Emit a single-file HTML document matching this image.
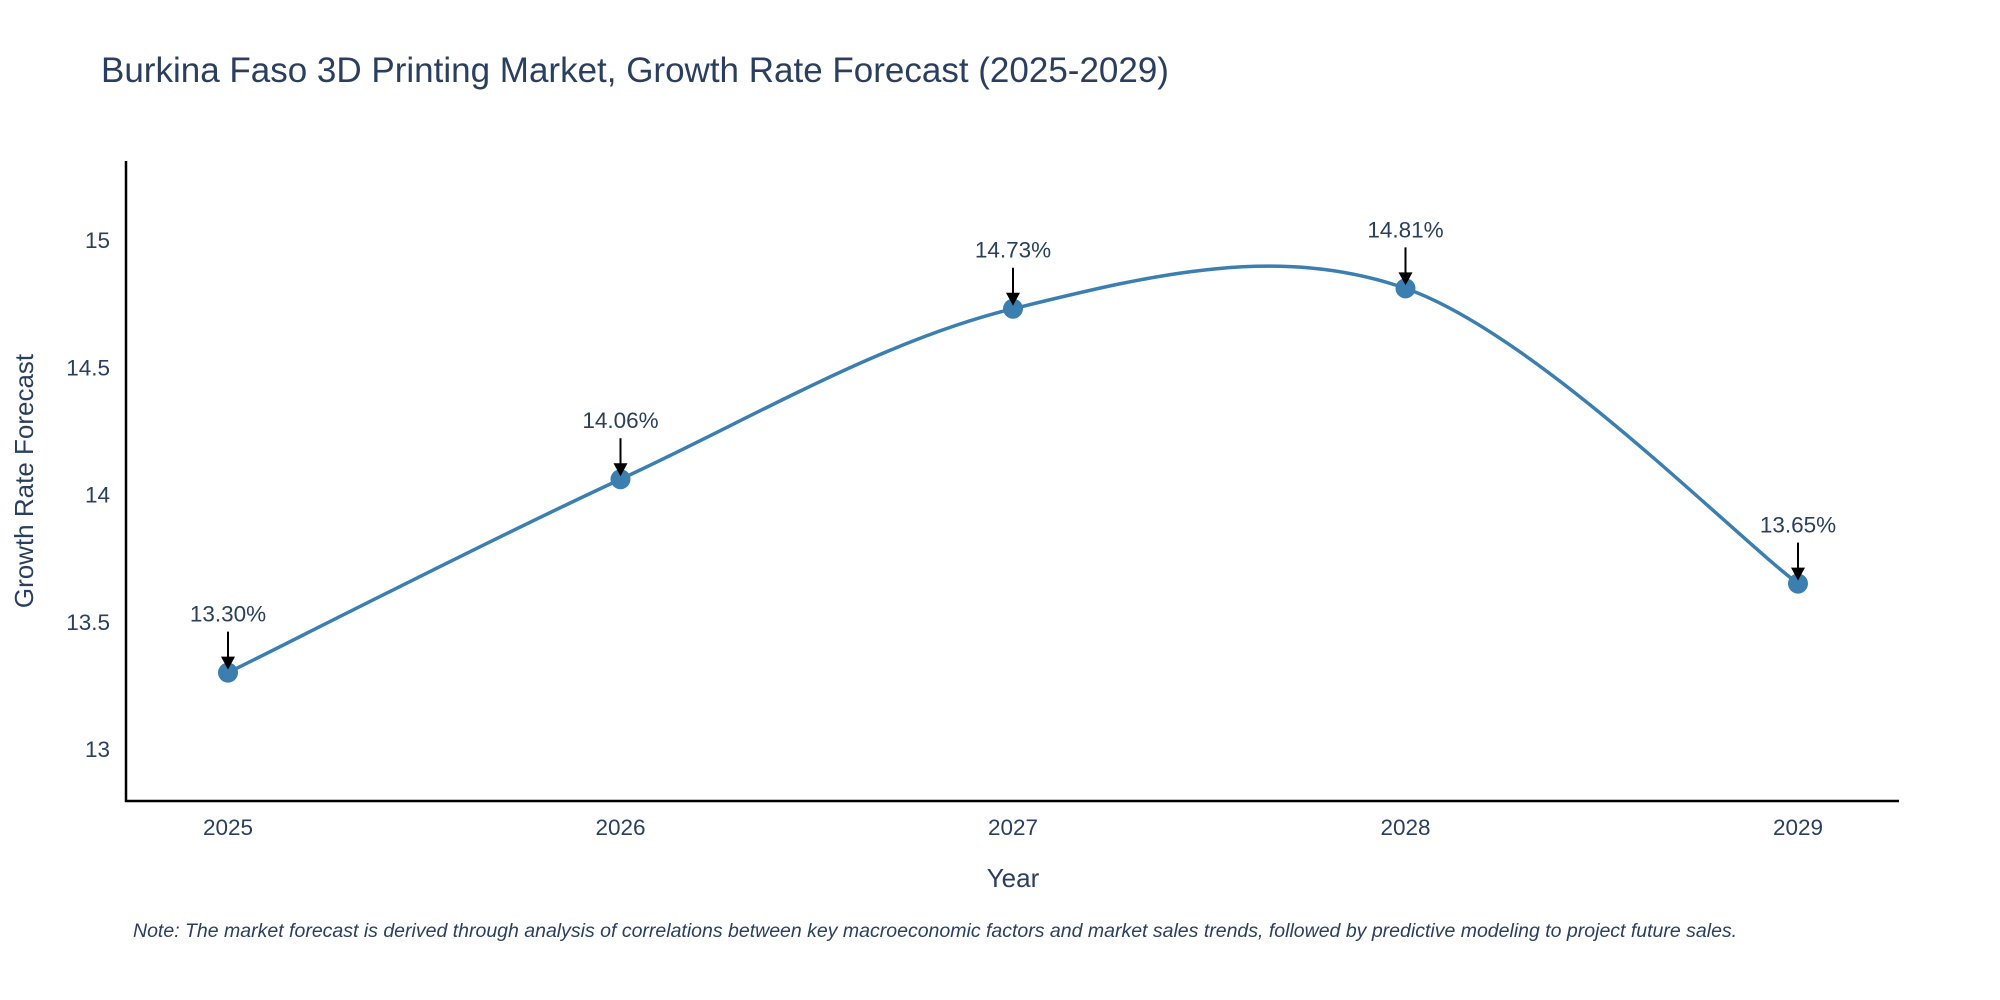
<!DOCTYPE html>
<html><head><meta charset="utf-8"><style>
body{margin:0;background:#fff;}
svg{display:block;font-family:"Liberation Sans",sans-serif;}
</style></head><body>
<svg id="chart" width="2000" height="1000" viewBox="0 0 2000 1000">
<text x="101" y="82" font-size="35" fill="#2a3f5f">Burkina Faso 3D Printing Market, Growth Rate Forecast (2025-2029)</text>
<g id="plot"></g>
<text x="1013" y="887" font-size="26" fill="#2a3f5f" text-anchor="middle">Year</text>
<text transform="translate(33,481) rotate(-90)" font-size="26" fill="#2a3f5f" text-anchor="middle">Growth Rate Forecast</text>
<text x="133" y="937" font-size="19.5" font-style="italic" fill="#2a3f5f">Note: The market forecast is derived through analysis of correlations between key macroeconomic factors and market sales trends, followed by predictive modeling to project future sales.</text>
</svg>
<script>
const years = [2025, 2026, 2027, 2028, 2029];
const growth = [13.30, 14.06, 14.73, 14.81, 13.65];
const yTicks = [13, 13.5, 14, 14.5, 15];
const yTickLabels = ["13", "13.5", "14", "14.5", "15"];

const NS = "http://www.w3.org/2000/svg";
const g = document.getElementById("plot");
function xs(v){ return 228 + (v - 2025) * 392.5; }
function ys(v){ return 749 - (v - 13) * 254.5; }
function mk(tag, attrs){ const e = document.createElementNS(NS, tag); for (const k in attrs) e.setAttribute(k, attrs[k]); g.appendChild(e); return e; }

let ax = mk("line", {x1:126, y1:161, x2:126, y2:802, stroke:"#000", "stroke-width":2.5});


ax = mk("line", {x1:125, y1:801, x2:1899, y2:801, stroke:"#000", "stroke-width":2.5});



yTicks.forEach((t, i) => {
  const e = mk("text", {x:110, y:ys(t)+8, "font-size":22.5, fill:"#2a3f5f", "text-anchor":"end"});
  e.textContent = yTickLabels[i];
  
  
});
years.forEach(yr => {
  const e = mk("text", {x:xs(yr), y:835, "font-size":22.5, fill:"#2a3f5f", "text-anchor":"middle"});
  e.textContent = String(yr);
  
  
});

const pts = years.map((y, i) => [xs(y), ys(growth[i])]);
let d = "M" + pts[0][0] + "," + pts[0][1];
for (let i = 0; i < pts.length - 1; i++) {
  const p0 = pts[i-1] || pts[i], p1 = pts[i], p2 = pts[i+1], p3 = pts[i+2] || pts[i+1];
  const c1 = [p1[0] + (p2[0]-p0[0])/6, p1[1] + (p2[1]-p0[1])/6];
  const c2 = [p2[0] - (p3[0]-p1[0])/6, p2[1] - (p3[1]-p1[1])/6];
  d += " C" + c1 + " " + c2 + " " + p2;
}
const line = mk("path", {d:d, fill:"none", stroke:"#3b7fb1", "stroke-width":3.5});



pts.forEach((p, i) => {
  const c = mk("circle", {cx:p[0], cy:p[1], r:10, fill:"#3b7fb1"});
  
  
  const a = mk("line", {x1:p[0], y1:p[1]-41, x2:p[0], y2:p[1]-14, stroke:"#000", "stroke-width":2});
  
  
  const h = mk("path", {d:`M${p[0]-7},${p[1]-16} L${p[0]+7},${p[1]-16} L${p[0]},${p[1]-3} Z`, fill:"#000"});
  
  
  const t = mk("text", {x:p[0], y:p[1]-51, "font-size":22.5, fill:"#2a3f5f", "text-anchor":"middle"});
  t.textContent = growth[i].toFixed(2) + "%";
  
  
});
</script>
</body></html>
